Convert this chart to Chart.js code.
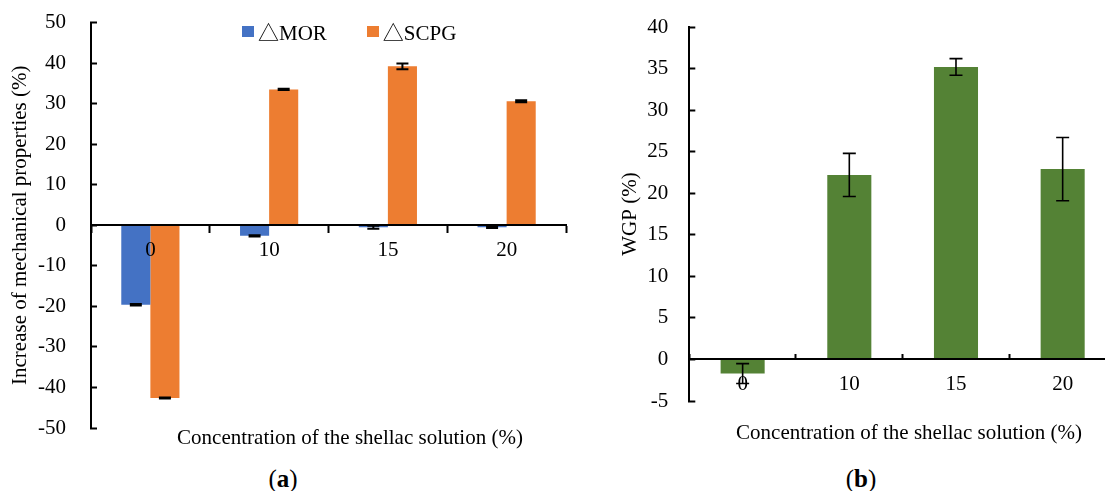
<!DOCTYPE html>
<html>
<head>
<meta charset="utf-8">
<script src="https://cdn.jsdelivr.net/npm/chart.js@4/dist/chart.umd.min.js"></script>
<style>
  html, body { margin: 0; padding: 0; width: 1105px; height: 491px; overflow: hidden; background: #fff; }
  canvas { position: absolute; top: 0; }
  #chartA { left: 0; }
  #chartB { left: 600px; }
  .legend { position: absolute; left: 242px; top: 20px; height: 22px; display: flex; align-items: center;
            font: 21px "Liberation Serif", "Noto Sans CJK SC", serif; color: #000; }
  .legend .item { display: flex; align-items: center; margin-right: 40px; white-space: nowrap; }
  .legend .swatch { width: 12px; height: 11px; margin-right: 4px; }
  .axis-title { position: absolute; width: 400px; text-align: center;
                font: 21px/21px "Liberation Serif", serif; color: #000; white-space: nowrap; }
  .caption { position: absolute; top: 465px; width: 80px; text-align: center;
             font: 25px "Liberation Serif", serif; color: #000; }
</style>
</head>
<body>
<canvas id="chartA" width="700" height="449"></canvas>
<canvas id="chartB" width="618" height="443"></canvas>
<div class="legend" id="legendA"></div>
<div class="axis-title" style="left:150px; top:427px">Concentration of the shellac solution (%)</div>
<div class="axis-title" style="left:709px; top:421.5px">Concentration of the shellac solution (%)</div>
<div class="caption" style="left:243px">(<b>a</b>)</div>
<div class="caption" style="left:821px">(<b>b</b>)</div>
<script>
// Shellac solution concentrations (%)
const concentrations = ['0', '10', '15', '20'];

// (a) change of mechanical properties (%)
const morIncrease  = [-19.6, -2.6, -0.5, -0.5];
const morError     = [0.2, 0.15, 0.35, 0.2];
const scpgIncrease = [-42.6, 33.5, 39.2, 30.6];
const scpgError    = [0.15, 0.15, 0.7, 0.25];

// (b) WGP (%)
const wgpValues = [-1.7, 22.2, 35.2, 22.9];
const wgpError  = [1.2, 2.6, 1.0, 3.8];

const FONT = '"Liberation Serif", "Times New Roman", serif';
const BLACK = '#000000';

// Draws symmetric error bars on top of every bar, using the y scale of the chart.
const errorBars = {
  id: 'errorBars',
  afterDatasetsDraw(chart, args, opts) {
    const ctx = chart.ctx;
    const yScale = chart.scales.y;
    chart.data.datasets.forEach((ds, i) => {
      const meta = chart.getDatasetMeta(i);
      if (meta.hidden || !ds.errors) return;
      meta.data.forEach((bar, j) => {
        const v = ds.data[j];
        const e = ds.errors[j];
        const x = bar.x;
        const yHi = yScale.getPixelForValue(v + e);
        const yLo = yScale.getPixelForValue(v - e);
        const half = opts.cap / 2;
        ctx.save();
        ctx.strokeStyle = opts.color;
        ctx.lineWidth = opts.width;
        ctx.beginPath();
        ctx.moveTo(x, yHi); ctx.lineTo(x, yLo);
        ctx.moveTo(x - half, yHi); ctx.lineTo(x + half, yHi);
        ctx.moveTo(x - half, yLo); ctx.lineTo(x + half, yLo);
        ctx.stroke();
        ctx.restore();
      });
    });
  }
};

// Value axis: tick marks point into the plot, labels kept clear of the axis line.
function valueAxis(min, max, step, width, tickPad, titleText, titlePad) {
  return {
    min: min, max: max,
    afterFit: (scale) => {
      scale.width = width;
      scale.paddingTop = 12;
      scale.paddingBottom = 12;
    },
    ticks: { stepSize: step, color: BLACK, padding: tickPad, font: { family: FONT, size: 21 } },
    grid: { drawOnChartArea: false, drawTicks: true, tickLength: -6, tickWidth: 2, tickColor: BLACK },
    border: { display: true, color: BLACK, width: 2, z: 1 },
    title: { display: true, text: titleText, color: BLACK,
             font: { family: FONT, size: 21 }, padding: { top: titlePad, bottom: 0 } }
  };
}

// Category axis crossing the value axis at zero.
function categoryAxis(tickLen, tickPad) {
  return {
    position: { y: 0 },
    grid: { offset: true, drawOnChartArea: false, drawTicks: true, tickLength: tickLen, tickWidth: 2, tickColor: BLACK },
    border: { display: true, color: BLACK, width: 2, z: 1 },
    ticks: { color: BLACK, padding: tickPad, z: 1, font: { family: FONT, size: 21 } }
  };
}

// (a)
const chartA = new Chart(document.getElementById('chartA'), {
  type: 'bar',
  data: {
    labels: concentrations,
    datasets: [
      { label: '△MOR', data: morIncrease, errors: morError, backgroundColor: '#4472C4' },
      { label: '△SCPG', data: scpgIncrease, errors: scpgError, backgroundColor: '#ED7D31' }
    ]
  },
  options: {
    responsive: false,
    animation: false,
    layout: { padding: { top: 22.5, right: 134, bottom: 21, left: 0 } },
    datasets: { bar: { categoryPercentage: 0.49, barPercentage: 1 } },
    plugins: {
      legend: { display: false },
      tooltip: { enabled: false },
      errorBars: { color: BLACK, width: 2, cap: 12 }
    },
    scales: {
      x: categoryAxis(7, 6),
      y: valueAxis(-50, 50, 10, 91, 31, 'Increase of mechanical properties (%)', 7.4)
    }
  },
  plugins: [errorBars]
});

// HTML legend built from the datasets of chart (a)
const legendEl = document.getElementById('legendA');
chartA.data.datasets.forEach((ds) => {
  const item = document.createElement('div');
  item.className = 'item';
  const sw = document.createElement('span');
  sw.className = 'swatch';
  sw.style.background = ds.backgroundColor;
  const txt = document.createElement('span');
  txt.textContent = ds.label;
  item.appendChild(sw);
  item.appendChild(txt);
  legendEl.appendChild(item);
});

// (b)
new Chart(document.getElementById('chartB'), {
  type: 'bar',
  data: {
    labels: concentrations,
    datasets: [
      { label: 'WGP', data: wgpValues, errors: wgpError, backgroundColor: '#548235' }
    ]
  },
  options: {
    responsive: false,
    animation: false,
    layout: { padding: { top: 27, right: 102, bottom: 42, left: 0 } },
    datasets: { bar: { categoryPercentage: 1, barPercentage: 0.413 } },
    plugins: {
      legend: { display: false },
      tooltip: { enabled: false },
      errorBars: { color: BLACK, width: 1.6, cap: 13 }
    },
    scales: {
      x: categoryAxis(-6, 18),
      y: valueAxis(-5, 40, 5, 89.3, 27, 'WGP (%)', 17.4)
    }
  },
  plugins: [errorBars]
});
</script>
</body>
</html>
